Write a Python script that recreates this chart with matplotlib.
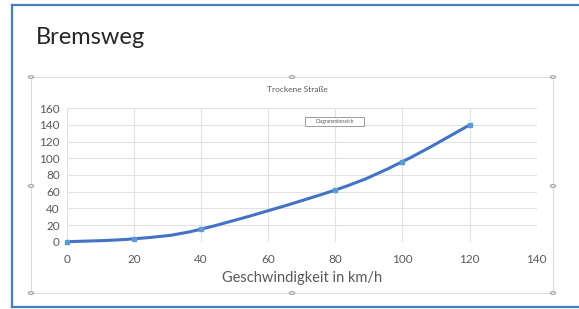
import matplotlib.pyplot as plt
import numpy as np
from matplotlib.path import Path
from matplotlib.patches import PathPatch, Rectangle, Circle
from matplotlib.lines import Line2D

W, H = 579, 309
FONT = ["Lato", "DejaVu Sans"]
plt.rcParams["font.family"] = FONT

speed = [0, 20, 40, 80, 100, 120]
distance = [0, 3.5, 15, 62, 96, 140]
x_ticks = [0, 20, 40, 60, 80, 100, 120, 140]
y_ticks = [0, 20, 40, 60, 80, 100, 120, 140, 160]


def fx(x):
    return x / W


def fy(y):
    return 1 - y / H


fig = plt.figure(figsize=(W / 100, H / 100), dpi=100)
fig.patch.set_facecolor("white")

# slide border (blue), open on the right
for xs, ys in [((12, 12), (5, 307)), ((12, 579), (5, 5)), ((12, 579), (307, 307))]:
    fig.add_artist(Line2D([fx(v) for v in xs], [fy(v) for v in ys],
                          color="#4a7ebb", lw=1.6, transform=fig.transFigure))

fig.text(fx(36), fy(38), "Bremsweg", fontsize=17, color="#262626",
         va="center", ha="left")

# chart frame with handles
left, top, right, bottom = 31, 77, 553, 293
fig.add_artist(Rectangle((fx(left), fy(bottom)), fx(right - left), (bottom - top) / H,
                         fill=False, ec="#dcdcdc", lw=0.8, transform=fig.transFigure))
for hx, hy in [(left, top), (292, top), (right, top), (left, 186), (right, 186),
               (left, bottom), (292, bottom), (right, bottom)]:
    fig.add_artist(Circle((fx(hx), fy(hy)), 2.6 / W, fc="white", ec="#a6a6a6",
                          lw=0.9, transform=fig.transFigure))

fig.text(fx(297), fy(90), "Trockene Straße", fontsize=6, color="#595959",
         ha="center", va="center")

ax = fig.add_axes([fx(66.7), fy(241.7), 470 / W, 133.4 / H])
ax.set_xlim(0, 140)
ax.set_ylim(0, 160)
ax.set_xticks(x_ticks)
ax.set_yticks(y_ticks)
for s in ax.spines.values():
    s.set_visible(False)
ax.grid(True, color="#e2e2e2", lw=0.8)
ax.set_axisbelow(True)
ax.tick_params(length=0, labelsize=8.5, labelcolor="#595959")
ax.tick_params(axis="y", pad=5)
ax.tick_params(axis="x", pad=9)
ax.set_xlabel("Geschwindigkeit in km/h", fontsize=10.5, color="#595959", labelpad=4)

# smoothed line like Excel
pts = np.column_stack([speed, distance]).astype(float)
verts = [pts[0]]
codes = [Path.MOVETO]
n = len(pts)
for i in range(n - 1):
    p0 = pts[max(i - 1, 0)]
    p1 = pts[i]
    p2 = pts[i + 1]
    p3 = pts[min(i + 2, n - 1)]
    verts += [p1 + (p2 - p0) / 6, p2 - (p3 - p1) / 6, p2]
    codes += [Path.CURVE4] * 3
ax.add_patch(PathPatch(Path(verts, codes), fill=False, ec="#4472c4", lw=2.2,
                       clip_on=False, zorder=3))
ax.plot(speed, distance, ls="none", marker="s", ms=3.5, color="#5b9bd5",
        clip_on=False, zorder=4)

# tooltip
fig.add_artist(Rectangle((fx(305), fy(126)), 59 / W, 9 / H, fc="white", ec="#8c8c8c",
                         lw=0.6, transform=fig.transFigure))
fig.text(fx(334.5), fy(121.5), "Diagrammbereich", fontsize=3.5, color="#595959",
         ha="center", va="center")

fig.savefig("out.png", dpi=100)
